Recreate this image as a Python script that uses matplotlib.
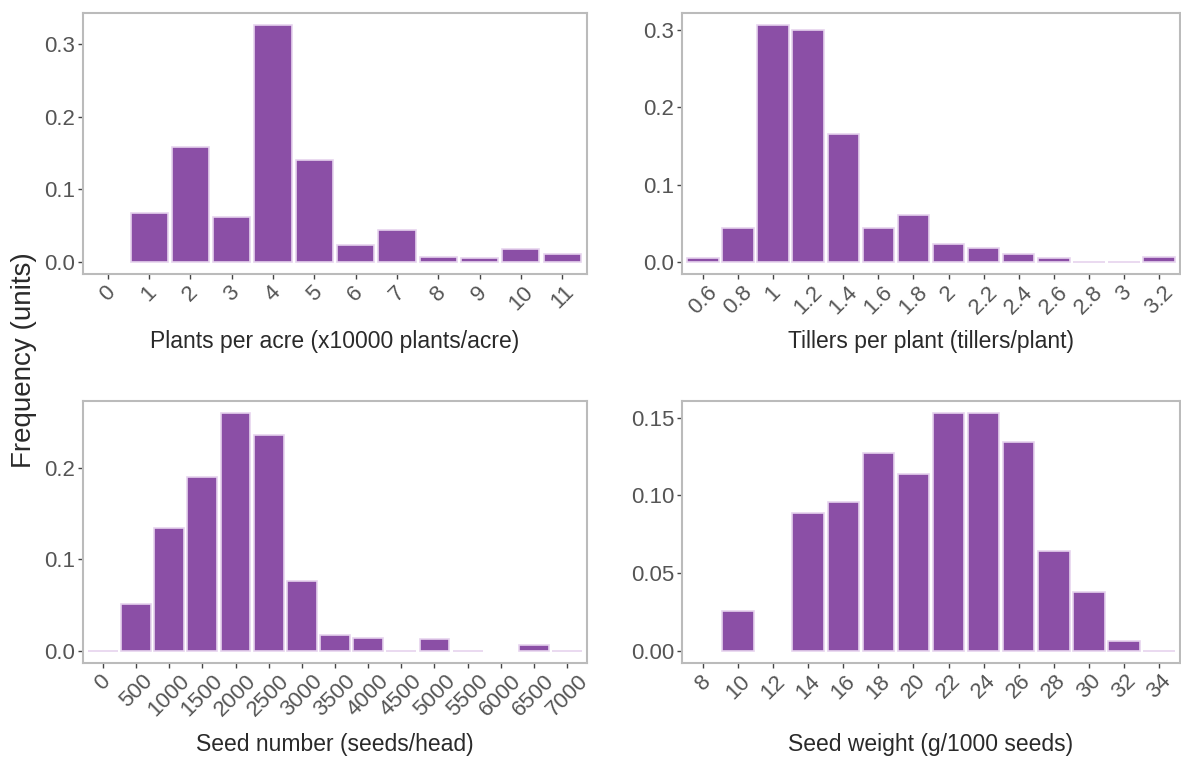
import numpy as np
import matplotlib
matplotlib.use("Agg")
import matplotlib.pyplot as plt

nan = np.nan

# plants per acre (x10000 plants/acre)
plants_cats = ["0", "1", "2", "3", "4", "5", "6", "7", "8", "9", "10", "11"]
plants_freq = [nan, 0.068, 0.158, 0.062, 0.326, 0.140, 0.024, 0.044, 0.007, 0.005, 0.018, 0.011]

# tillers per plant
tillers_cats = ["0.6", "0.8", "1", "1.2", "1.4", "1.6", "1.8", "2", "2.2", "2.4", "2.6", "2.8", "3", "3.2"]
tillers_freq = [0.005, 0.044, 0.306, 0.299, 0.165, 0.044, 0.061, 0.024, 0.018, 0.010, 0.005, 0.0, 0.0, 0.006]

# seed number (seeds/head)
seednum_cats = ["0", "500", "1000", "1500", "2000", "2500", "3000", "3500", "4000", "4500",
                "5000", "5500", "6000", "6500", "7000"]
seednum_freq = [0.0, 0.051, 0.134, 0.190, 0.260, 0.236, 0.076, 0.018, 0.014, 0.0,
                0.013, 0.0, nan, 0.0065, 0.0]

# seed weight (g/1000 seeds)
seedwt_cats = ["8", "10", "12", "14", "16", "18", "20", "22", "24", "26", "28", "30", "32", "34"]
seedwt_freq = [nan, 0.026, nan, 0.089, 0.096, 0.127, 0.114, 0.153, 0.153, 0.134, 0.064, 0.038, 0.0066, 0.0]

plt.rcParams['font.family'] = ['Liberation Sans', 'DejaVu Sans']

W, H = 1181, 758
fig = plt.figure(figsize=(W / 100, H / 100), dpi=100)

FILL = "#8B4FA6"
EDGE = "#E6D3EE"
BORDER = "#BBBBBB"
TXT = "#555555"


def px_axes(x0, y0, x1, y1):
    # pixel box (left, top, right, bottom) -> figure fraction
    return fig.add_axes([x0 / W, 1 - y1 / H, (x1 - x0) / W, (y1 - y0) / H])


def panel(box, cats, freq, yticks, yfmt, xlabel, title_y):
    ax = px_axes(*box)
    x = np.arange(len(cats))
    ax.bar(x, freq, width=0.9, color=FILL, edgecolor=EDGE, linewidth=1.2)
    top = np.nanmax(freq)
    ax.set_xlim(-0.6, len(cats) - 1 + 0.6)
    ax.set_ylim(-0.05 * top, top * 1.05)
    ax.set_xticks(x)
    ax.set_xticklabels(cats, rotation=45, ha="center", va="top")
    ax.set_yticks(yticks)
    ax.set_yticklabels([yfmt.format(v) for v in yticks])
    ax.tick_params(axis="both", colors="#444444", labelcolor=TXT, labelsize=16,
                   length=3.5, width=1.0, pad=2)
    for s in ax.spines.values():
        s.set_color(BORDER)
        s.set_linewidth(1.5)
    cx = (box[0] + box[2]) / 2 / W
    fig.text(cx, 1 - title_y / H, xlabel, ha="center", va="center",
             fontsize=16.5, color="#2a2a2a")
    return ax


panel((83, 13, 587, 274), plants_cats, plants_freq, [0, 0.1, 0.2, 0.3], "{:.1f}",
      "Plants per acre (x10000 plants/acre)", 341)
panel((682, 13, 1180, 274), tillers_cats, tillers_freq, [0, 0.1, 0.2, 0.3], "{:.1f}",
      "Tillers per plant (tillers/plant)", 341)
panel((83, 401, 587, 663), seednum_cats, seednum_freq, [0, 0.1, 0.2], "{:.1f}",
      "Seed number (seeds/head)", 745)
panel((682, 401, 1180, 663), seedwt_cats, seedwt_freq, [0, 0.05, 0.10, 0.15], "{:.2f}",
      "Seed weight (g/1000 seeds)", 745)

fig.text(24 / W, 1 - 360 / H, "Frequency (units)", rotation=90, ha="center", va="center",
         fontsize=20, color="#2a2a2a")

fig.savefig("out.png", dpi=100)
